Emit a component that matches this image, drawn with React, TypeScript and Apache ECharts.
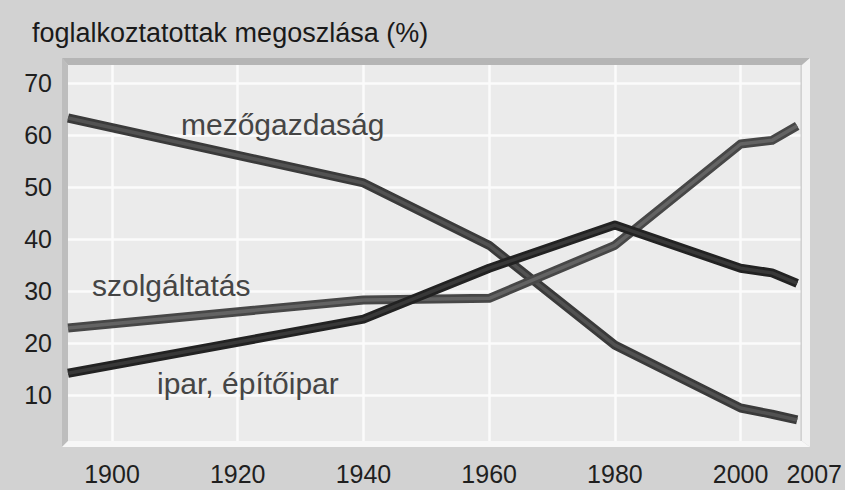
import React, { useEffect, useRef } from "react";
import * as echarts from "echarts";

// Horizontal positions of the line vertices (years on the drawn scale)
const years = [1893, 1940, 1960, 1980, 2000, 2005, 2009];
const mezogazdasag = [63.3, 50.8, 38.8, 19.6, 7.5, 6.3, 5.2];
const szolgaltatas = [22.9, 28.3, 28.6, 38.8, 58.3, 59.0, 61.8];
const ipar = [14.2, 24.6, 34.4, 42.7, 34.4, 33.5, 31.5];

const xTickValues = [1900, 1920, 1940, 1960, 1980, 2000];
const xLabelValues = [1900, 1920, 1940, 1960, 1980, 2000, 2009];
const xLabelTexts = ["1900", "1920", "1940", "1960", "1980", "2000", "2007"];
const yTickValues = [10, 20, 30, 40, 50, 60, 70];

const title = "foglalkoztatottak megoszlása (%)";
const seriesNames = ["mezőgazdaság", "szolgáltatás", "ipar, építőipar"];

const FONT = "'Liberation Sans', Arial, Helvetica, sans-serif";

function pairs(vals: number[]) {
  return years.map((y, i) => [y, vals[i]]);
}

export default function App() {
  const ref = useRef<HTMLDivElement>(null);
  useEffect(() => {
    if (!ref.current) return;
    const chart = echarts.init(ref.current, undefined, { renderer: "svg" });
    const lineDefs = [
      { name: seriesNames[0], data: mezogazdasag, outer: "#3a3a3a", inner: "#525252" },
      { name: seriesNames[1], data: szolgaltatas, outer: "#474747", inner: "#636363" },
      { name: seriesNames[2], data: ipar, outer: "#222222", inner: "#383838" },
    ];
    const series: any[] = [];
    lineDefs.forEach((d, i) => {
      series.push({
        name: d.name,
        type: "line",
        data: pairs(d.data),
        showSymbol: false,
        silent: true,
        z: 3 + i * 2,
        lineStyle: { width: 9, color: d.outer, cap: "butt", join: "round" },
      });
      series.push({
        name: d.name + " ",
        type: "line",
        data: pairs(d.data),
        showSymbol: false,
        silent: true,
        z: 4 + i * 2,
        lineStyle: { width: 3.5, color: d.inner, cap: "butt", join: "round" },
      });
    });

    chart.setOption({
      animation: false,
      backgroundColor: "#d2d2d2",
      textStyle: { fontFamily: FONT },
      title: {
        text: title,
        left: 27,
        top: 14,
        textStyle: { fontFamily: FONT, fontSize: 27, fontWeight: "normal", color: "#1a1a1a" },
      },
      grid: {
        left: 68,
        right: 43,
        top: 65,
        bottom: 43,
        show: true,
        backgroundColor: "#ebebeb",
        borderWidth: 0,
      },
      xAxis: {
        type: "value",
        min: 1893,
        max: 2009.5,
        axisLine: { show: false },
        axisTick: { show: false, customValues: xTickValues },
        splitLine: { show: true, lineStyle: { color: "#fbfbfb", width: 2.5 } },
        axisLabel: {
          customValues: xLabelValues,
          margin: 14,
          fontSize: 25,
          color: "#1f1f1f",
          fontFamily: FONT,
          formatter: (v: number) => {
            const i = xLabelValues.indexOf(v);
            const t = i >= 0 ? xLabelTexts[i] : "";
            return i === xLabelValues.length - 1 ? "{e|" + t + "}" : t;
          },
          rich: {
            e: { padding: [0, 0, 0, 34], fontSize: 25, color: "#1f1f1f", fontFamily: FONT },
          },
        },
      },
      yAxis: {
        type: "value",
        min: 0,
        max: 73.5,
        axisLine: { show: false },
        axisTick: { show: false, customValues: yTickValues },
        splitLine: { show: true, lineStyle: { color: "#fbfbfb", width: 2.5 } },
        axisLabel: {
          customValues: yTickValues,
          margin: 16,
          fontSize: 25,
          color: "#1f1f1f",
          fontFamily: FONT,
        },
      },
      graphic: [
        // recessed frame: shadow top/left, highlight bottom/right
        { type: "polygon", z: 1, silent: true, shape: { points: [[62, 58], [810, 58], [802, 65], [68, 65]] }, style: { fill: "#b5b5b5" } },
        { type: "polygon", z: 1, silent: true, shape: { points: [[62, 58], [68, 65], [68, 441], [62, 447]] }, style: { fill: "#bdbdbd" } },
        { type: "polygon", z: 1, silent: true, shape: { points: [[62, 447], [68, 441], [802, 441], [810, 447]] }, style: { fill: "#f7f7f7" } },
        { type: "polygon", z: 1, silent: true, shape: { points: [[810, 58], [802, 65], [802, 441], [810, 447]] }, style: { fill: "#f3f3f3" } },
        {
          type: "text", z: 20, silent: true, x: 181, y: 124,
          style: { text: seriesNames[0], fontSize: 30, fontFamily: FONT, fill: "#454545", verticalAlign: "middle" },
        },
        {
          type: "text", z: 20, silent: true, x: 92, y: 285,
          style: { text: seriesNames[1], fontSize: 30, fontFamily: FONT, fill: "#454545", verticalAlign: "middle" },
        },
        {
          type: "text", z: 20, silent: true, x: 157, y: 383,
          style: { text: seriesNames[2], fontSize: 30, fontFamily: FONT, fill: "#454545", verticalAlign: "middle" },
        },
      ],
      series,
    });
    return () => chart.dispose();
  }, []);
  return (
    <div
      ref={ref}
      style={{ position: "fixed", left: 0, top: 0, width: 845, height: 490, background: "#d2d2d2" }}
    />
  );
}
